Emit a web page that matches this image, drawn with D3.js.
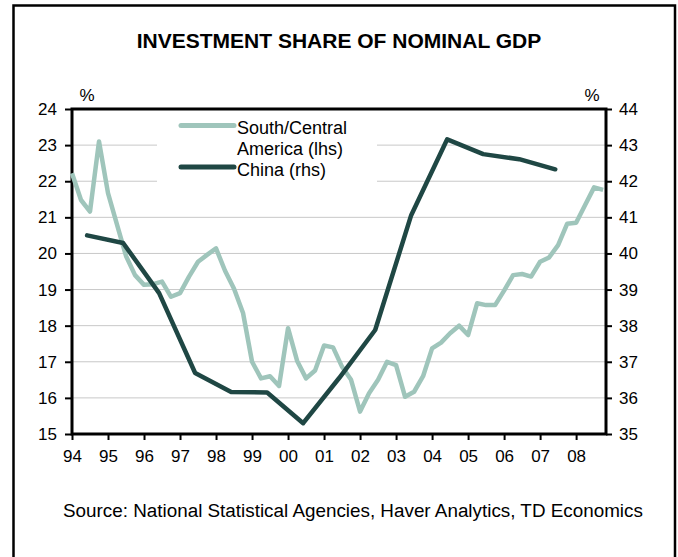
<!DOCTYPE html>
<html><head><meta charset="utf-8">
<script src="https://cdn.jsdelivr.net/npm/d3@7"></script>
<style>
html,body{margin:0;padding:0;background:#fff;}
svg{display:block;font-family:"Liberation Sans",Arial,sans-serif;}
</style></head>
<body>
<svg id="chart" width="678" height="557"></svg>
<script>
// ---- data ----
const title = "INVESTMENT SHARE OF NOMINAL GDP";
const source = "Source: National Statistical Agencies, Haver Analytics, TD Economics";
const yearTicks = [1994,1995,1996,1997,1998,1999,2000,2001,2002,2003,2004,2005,2006,2007,2008];
const yearLabels = ["94","95","96","97","98","99","00","01","02","03","04","05","06","07","08"];
const leftTicks = [15,16,17,18,19,20,21,22,23,24];
const rightTicks = [35,36,37,38,39,40,41,42,43,44];
// South/Central America, quarterly 1994Q1 - 2008Q4 (lhs)
const scaYears = [1994,1995,1996,1997,1998,1999,2000,2001,2002,2003,2004,2005,2006,2007,2008];
const scaValues = [
  22.22,21.48,21.16,23.10,
  21.67,20.80,19.93,19.40,
  19.13,19.15,19.22,18.80,
  18.90,19.36,19.77,19.96,
  20.14,19.52,19.02,18.35,
  17.00,16.54,16.60,16.33,
  17.93,17.03,16.54,16.76,
  17.45,17.40,16.86,16.50,
  15.62,16.13,16.50,17.00,
  16.91,16.03,16.17,16.60,
  17.37,17.53,17.79,18.00,
  17.74,18.62,18.57,18.57,
  18.97,19.40,19.43,19.36,
  19.77,19.89,20.23,20.82,
  20.85,21.34,21.83,21.76
];
// China, annual 1994 - 2007 (rhs)
const chinaYears = [1994,1995,1996,1997,1998,1999,2000,2001,2002,2003,2004,2005,2006,2007];
const chinaValues = [40.50,40.29,38.90,36.69,36.16,36.15,35.30,36.55,37.88,41.06,43.16,42.75,42.61,42.33];

const colSCA = "#9fc5bb";
const colChina = "#1f4744";

// ---- build ----
const scaData = [];
scaYears.forEach((y, i) => {
  for (let q = 0; q < 4; q++) scaData.push({t: y + q / 4, v: scaValues[i * 4 + q]});
});
const chinaData = chinaYears.map((y, i) => ({t: y + 0.42, v: chinaValues[i]}));

const svg = d3.select("#chart");
const L = 72, R = 606, T = 109, B = 434;
const x = d3.scaleLinear().domain([1994, 2008.83]).range([L, R]);
const yL = d3.scaleLinear().domain([15, 24]).range([B, T]);
const yR = d3.scaleLinear().domain([35, 44]).range([B, T]);

// outer frame
svg.append("rect").attr("x", 13.5).attr("y", 5.5).attr("width", 661.5).attr("height", 600)
  .attr("fill", "none").attr("stroke", "#000").attr("stroke-width", 2.5);

// title
svg.append("text").attr("x", 339).attr("y", 48).attr("text-anchor", "middle")
  .attr("font-weight", "bold").attr("font-size", 21).attr("fill", "#000").text(title);

// gridlines
svg.append("g").selectAll("line").data(leftTicks.filter(d => d > 15 && d < 24)).join("line")
  .attr("x1", L).attr("x2", R).attr("y1", d => yL(d)).attr("y2", d => yL(d))
  .attr("stroke", "#c8c8c8").attr("stroke-width", 1);

// legend background box (hides gridlines)
svg.append("rect").attr("x", 157).attr("y", 112).attr("width", 220).attr("height", 80).attr("fill", "#fff");

// axes
const axL = svg.append("g").attr("transform", `translate(${L},0)`)
  .call(d3.axisLeft(yL).tickValues(leftTicks).tickSize(7).tickPadding(8).tickFormat(d3.format("d")));
const axR = svg.append("g").attr("transform", `translate(${R},0)`)
  .call(d3.axisRight(yR).tickValues(rightTicks).tickSize(6).tickPadding(7).tickFormat(d3.format("d")));
const axB = svg.append("g").attr("transform", `translate(0,${B})`)
  .call(d3.axisBottom(x).tickValues(yearTicks).tickSize(6).tickPadding(9)
    .tickFormat((d, i) => yearLabels[i]));
[axL, axR, axB].forEach(g => {
  g.select(".domain").remove();
  g.selectAll(".tick line").attr("stroke", "#000").attr("stroke-width", 2);
  g.selectAll(".tick text").attr("font-size", 17).attr("fill", "#000")
    .attr("font-family", "'Liberation Sans',Arial,sans-serif");
});
axB.selectAll(".tick text").attr("dy", "0.75em");

// plot frame
svg.append("rect").attr("x", L).attr("y", T).attr("width", R - L).attr("height", B - T)
  .attr("fill", "none").attr("stroke", "#000").attr("stroke-width", 3);

// % labels
svg.append("text").attr("x", 87).attr("y", 101).attr("text-anchor", "middle").attr("font-size", 17).text("%");
svg.append("text").attr("x", 592).attr("y", 101).attr("text-anchor", "middle").attr("font-size", 17).text("%");

// lines
const lineL = d3.line().x(d => x(d.t)).y(d => yL(d.v));
const lineR = d3.line().x(d => x(d.t)).y(d => yR(d.v));
svg.append("path").datum(scaData).attr("d", lineL).attr("fill", "none")
  .attr("stroke", colSCA).attr("stroke-width", 4.5).attr("stroke-linejoin", "round").attr("stroke-linecap", "butt");
svg.append("path").datum(chinaData).attr("d", lineR).attr("fill", "none")
  .attr("stroke", colChina).attr("stroke-width", 4.5).attr("stroke-linejoin", "round").attr("stroke-linecap", "round");

// legend
const leg = svg.append("g");
leg.append("line").attr("x1", 181).attr("x2", 234).attr("y1", 125.5).attr("y2", 125.5)
  .attr("stroke", colSCA).attr("stroke-width", 5).attr("stroke-linecap", "round");
leg.append("line").attr("x1", 181).attr("x2", 234).attr("y1", 167).attr("y2", 167)
  .attr("stroke", colChina).attr("stroke-width", 5).attr("stroke-linecap", "round");
leg.append("text").attr("x", 237).attr("y", 133.5).attr("font-size", 18).text("South/Central");
leg.append("text").attr("x", 237).attr("y", 155).attr("font-size", 18).text("America (lhs)");
leg.append("text").attr("x", 237).attr("y", 175.5).attr("font-size", 18).text("China (rhs)");

// source
svg.append("text").attr("x", 63).attr("y", 517).attr("font-size", 18.85).text(source);
</script>
</body></html>
